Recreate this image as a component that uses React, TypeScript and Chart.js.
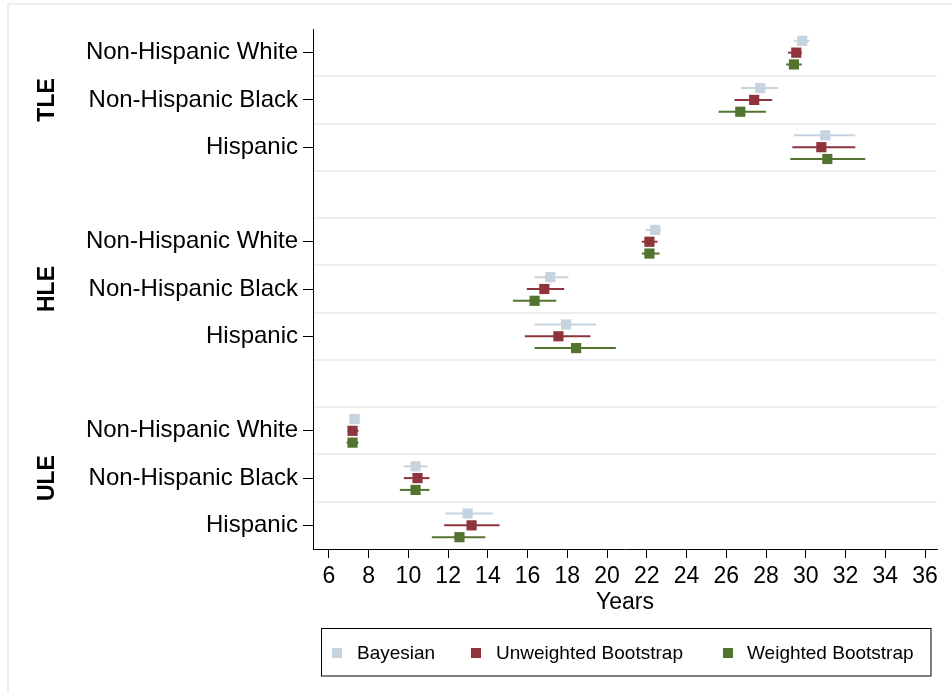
import React, { useEffect, useRef } from "react";
import { Chart, registerables } from "chart.js";

Chart.register(...registerables);

const groups = ["TLE", "HLE", "ULE"];
const raceLabels = ["Non-Hispanic White", "Non-Hispanic Black", "Hispanic"];
const rowPositions = [0, 1, 2, 4, 5, 6, 8, 9, 10];
const groupCenters = [1, 5, 9];
const gridPositions = [0.5, 1.5, 2.5, 3.5, 4.5, 5.5, 6.5, 7.5, 8.5, 9.5];
const xTicks = [6, 8, 10, 12, 14, 16, 18, 20, 22, 24, 26, 28, 30, 32, 34, 36];

const seriesNames = ["Bayesian", "Unweighted Bootstrap", "Weighted Bootstrap"];
const seriesColors = ["#c6d3e0", "#8f343d", "#52742f"];
const seriesOffsets = [-0.25, 0, 0.25];

// order: TLE (NHW, NHB, Hisp), HLE (...), ULE (...)
const bayesEst = [29.82, 27.71, 30.98, 22.42, 17.14, 17.94, 7.29, 10.36, 12.98];
const bayesLo = [29.4, 26.73, 29.4, 21.93, 16.35, 16.35, 7.05, 9.77, 11.87];
const bayesHi = [30.19, 28.61, 32.49, 22.72, 18.06, 19.45, 7.58, 10.96, 14.25];

const unwEst = [29.52, 27.4, 30.78, 22.13, 16.84, 17.55, 7.19, 10.46, 13.18];
const unwLo = [29.1, 26.41, 29.32, 21.75, 15.96, 15.86, 6.95, 9.77, 11.8];
const unwHi = [29.8, 28.31, 32.49, 22.54, 17.84, 19.16, 7.49, 11.06, 14.59];

const wEst = [29.4, 26.7, 31.08, 22.13, 16.35, 18.44, 7.19, 10.36, 12.57];
const wLo = [29.01, 25.61, 29.22, 21.75, 15.26, 16.35, 6.89, 9.57, 11.18];
const wHi = [29.8, 27.99, 32.99, 22.64, 17.44, 20.44, 7.49, 11.06, 13.87];

const estimates = [bayesEst, unwEst, wEst];
const lows = [bayesLo, unwLo, wLo];
const highs = [bayesHi, unwHi, wHi];

const FONT = "'Liberation Sans', Arial, Helvetica, sans-serif";

export default function App() {
  const ref = useRef<HTMLCanvasElement | null>(null);

  useEffect(() => {
    const canvas = ref.current;
    if (!canvas) return;

    const datasets = seriesNames.map((name, s) => ({
      label: name,
      data: estimates[s].map((v, i) => ({ x: v, y: rowPositions[i] + seriesOffsets[s] })),
      backgroundColor: seriesColors[s],
      borderColor: seriesColors[s],
      borderWidth: 0,
      pointStyle: "rect" as const,
      pointRadius: 7.2,
      showLine: false,
    }));

    const decorPlugin = {
      id: "decor",
      beforeDraw(chart: any) {
        const ctx = chart.ctx;
        ctx.save();
        ctx.fillStyle = "#ffffff";
        ctx.fillRect(0, 0, chart.width, chart.height);
        ctx.strokeStyle = "#e9eff3";
        ctx.lineWidth = 2;
        ctx.beginPath();
        ctx.moveTo(8, 693);
        ctx.lineTo(8, 4);
        ctx.lineTo(952, 4);
        ctx.stroke();
        ctx.restore();
      },
      beforeDatasetsDraw(chart: any) {
        const ctx = chart.ctx;
        const xs = chart.scales.x;
        const ys = chart.scales.y;
        const area = chart.chartArea;
        ctx.save();
        // gridlines
        ctx.strokeStyle = "#e9eff2";
        ctx.lineWidth = 2;
        gridPositions.forEach((g) => {
          const y = Math.round(ys.getPixelForValue(g));
          ctx.beginPath();
          ctx.moveTo(area.left + 1, y);
          ctx.lineTo(area.right, y);
          ctx.stroke();
        });
        // CI lines
        ctx.lineWidth = 2;
        for (let s = 0; s < seriesNames.length; s++) {
          ctx.strokeStyle = seriesColors[s];
          for (let i = 0; i < rowPositions.length; i++) {
            const y = ys.getPixelForValue(rowPositions[i] + seriesOffsets[s]);
            ctx.beginPath();
            ctx.moveTo(xs.getPixelForValue(lows[s][i]), y);
            ctx.lineTo(xs.getPixelForValue(highs[s][i]), y);
            ctx.stroke();
          }
        }
        ctx.restore();
      },
      afterDraw(chart: any) {
        const ctx = chart.ctx;
        const ys = chart.scales.y;
        const area = chart.chartArea;
        ctx.save();
        // group labels
        ctx.fillStyle = "#000";
        ctx.font = `bold 23px ${FONT}`;
        ctx.textAlign = "center";
        ctx.textBaseline = "middle";
        groups.forEach((g, k) => {
          const y = ys.getPixelForValue(groupCenters[k]);
          ctx.save();
          ctx.translate(48, y);
          ctx.rotate(-Math.PI / 2);
          ctx.fillText(g, 0, 0);
          ctx.restore();
        });
        // x title
        ctx.font = `23px ${FONT}`;
        ctx.fillText("Years", (area.left + area.right) / 2, 603);
        // legend
        const boxL = 321.5, boxT = 628.5, boxR = 931, boxB = 676;
        ctx.strokeStyle = "#000";
        ctx.lineWidth = 1;
        ctx.strokeRect(boxL, boxT, boxR - boxL, boxB - boxT);
        const markerX = [337, 476, 728];
        const textX = [357, 496, 747];
        const cy = 653;
        ctx.font = `19px ${FONT}`;
        ctx.textAlign = "left";
        chart.data.datasets.forEach((ds: any, s: number) => {
          ctx.fillStyle = ds.backgroundColor;
          ctx.fillRect(markerX[s] - 5, cy - 5, 10, 10);
          ctx.fillStyle = "#000";
          ctx.fillText(ds.label, textX[s], cy + 1);
        });
        ctx.restore();
      },
    };

    const chart = new Chart(canvas, {
      type: "scatter",
      data: { datasets },
      plugins: [decorPlugin],
      options: {
        responsive: false,
        animation: false,
        devicePixelRatio: 1,
        events: [],
        layout: { padding: { left: 0, top: 29, right: 15, bottom: 0 } },
        plugins: {
          legend: { display: false },
          tooltip: { enabled: false },
          title: { display: false },
        },
        scales: {
          x: {
            type: "linear",
            min: 5.2,
            max: 36.6,
            afterBuildTicks: (scale: any) => {
              scale.ticks = xTicks.map((v) => ({ value: v }));
            },
            afterFit: (scale: any) => {
              scale.height = 144;
            },
            grid: {
              drawOnChartArea: false,
              drawTicks: true,
              tickLength: 9,
              color: "#000",
              lineWidth: 1,
            },
            border: { display: true, color: "#000", width: 1 },
            ticks: {
              color: "#000",
              font: { family: FONT, size: 23 },
              padding: 5,
              maxRotation: 0,
              autoSkip: false,
            },
          },
          y: {
            type: "linear",
            min: -0.5,
            max: 10.5,
            reverse: true,
            afterBuildTicks: (scale: any) => {
              scale.ticks = rowPositions.map((v) => ({ value: v }));
            },
            afterFit: (scale: any) => {
              scale.width = 313;
            },
            grid: {
              drawOnChartArea: false,
              drawTicks: true,
              tickLength: 10,
              color: "#000",
              lineWidth: 1,
            },
            border: { display: true, color: "#000", width: 1 },
            ticks: {
              color: "#000",
              font: { family: FONT, size: 24 },
              padding: 5,
              autoSkip: false,
              callback: (value: any) => {
                const idx = rowPositions.indexOf(Number(value));
                return idx >= 0 ? raceLabels[idx % 3] : "";
              },
            },
          },
        },
      },
    });

    return () => chart.destroy();
  }, []);

  return (
    <div style={{ position: "absolute", left: 0, top: 0, width: 952, height: 693, background: "#fff" }}>
      <canvas ref={ref} width={952} height={693} style={{ display: "block" }} />
    </div>
  );
}
